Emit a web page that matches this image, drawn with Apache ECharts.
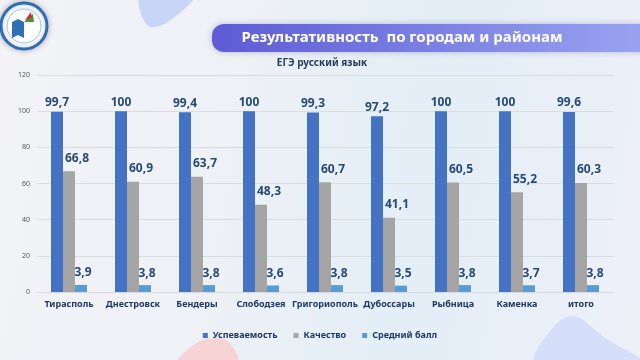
<!DOCTYPE html>
<html><head><meta charset="utf-8">
<script src="https://cdn.jsdelivr.net/npm/echarts@6/dist/echarts.min.js"></script>
<style>
html,body{margin:0;padding:0;}
#c{width:640px;height:360px;background:linear-gradient(100deg,#f3f3f7 0%,#eef1f6 35%,#e3eef6 65%,#eef0f8 100%);}
</style></head>
<body><div id="c"></div>
<script>
const categories = ['Тирасполь','Днестровск','Бендеры','Слободзея','Григориополь','Дубоссары','Рыбница','Каменка','итого'];
const uspevaemost = [99.7,100,99.4,100,99.3,97.2,100,100,99.6];
const kachestvo = [66.8,60.9,63.7,48.3,60.7,41.1,60.5,55.2,60.3];
const sredniyBall = [3.9,3.8,3.8,3.6,3.8,3.5,3.8,3.7,3.8];
const seriesNames = ['Успеваемость','Качество','Средний балл'];
const yTicks = [0,20,40,60,80,100,120];

const chart = echarts.init(document.getElementById('c'), null, {renderer:'canvas'});
const fmt = p => String(p.value).replace('.', ',');
const labelStyle = (offset) => ({show:true, position:'top', formatter:fmt, color:'#264a75', fontSize:12, fontWeight:'bold', fontFamily:'Noto Sans', offset:offset, distance:3});
const font = 'Noto Sans';
chart.setOption({
  backgroundColor:'transparent',
  animation:false,
  textStyle:{fontFamily:font},
  graphic:[
    {type:'polygon', z:-10, shape:{points:[[140,-4],[194,-4],[168,22],[150,27],[141,14]], smooth:0.3}, style:{fill:'#c8d5f7'}},
    {type:'polygon', z:-10, shape:{points:[[178,362],[200,341],[226,340],[238,362]], smooth:0.3}, style:{fill:'#f7d3d6'}},
    {type:'polygon', z:-10, shape:{points:[[535,362],[555,325],[575,316],[605,338],[642,362]], smooth:0.3}, style:{fill:'#d5dffa'}},
    {type:'circle', z:-5, shape:{cx:24,cy:26,r:23}, style:{fill:'#ffffff', stroke:'#2c6db5', lineWidth:3, shadowBlur:6, shadowColor:'rgba(0,0,0,0.25)'}},
    {type:'circle', z:-4, shape:{cx:24,cy:26,r:17}, style:{fill:'#ffffff', stroke:'#9cc0e4', lineWidth:1}},
    {type:'polygon', z:-3, shape:{points:[[12,22],[18,19],[24,22],[24,38],[18,35],[12,38]]}, style:{fill:'#2f70b8'}},
    {type:'polygon', z:-3, shape:{points:[[24,22],[33,14],[34,22]]}, style:{fill:'#3c9a3c'}},
    {type:'polygon', z:-3, shape:{points:[[25,20],[31,12],[32,18]]}, style:{fill:'#d43030'}},
    {type:'rect', z:-2, shape:{x:212,y:24,width:440,height:28,r:12}, style:{fill:new echarts.graphic.LinearGradient(0,0,1,0,[{offset:0,color:'#5d5bd5'},{offset:1,color:'#9ba5f2'}]), shadowBlur:6, shadowColor:'rgba(60,60,150,0.3)'}},
    {type:'text', z:5, style:{x:402,y:38,text:'Результативность  по городам и районам', fill:'#ffffff', font:'bold 15px "Noto Sans"', textAlign:'center', textVerticalAlign:'middle'}},
    {type:'text', z:5, style:{x:322,y:63,text:'ЕГЭ русский язык', fill:'#1f3a5f', font:'bold 10px "Noto Sans"', textAlign:'center', textVerticalAlign:'middle'}}
  ],
  grid:{left:37, right:27, top:75, bottom:68, containLabel:false},
  legend:{data:seriesNames, bottom:15, left:'center', itemWidth:5, itemHeight:5, itemGap:16, icon:'rect',
    textStyle:{fontSize:9, fontWeight:'bold', color:'#1f3864', fontFamily:font}},
  xAxis:{type:'category', data:categories, axisTick:{show:false},
    axisLine:{lineStyle:{color:'#d9d9d9'}},
    axisLabel:{fontSize:9, fontWeight:'bold', color:'#1f3864', margin:8, interval:0, fontFamily:font}},
  yAxis:{type:'value', min:yTicks[0], max:yTicks[yTicks.length-1], interval:20,
    axisLine:{show:false}, axisTick:{show:false},
    splitLine:{lineStyle:{color:'#dcdcdc'}},
    axisLabel:{fontSize:7, color:'#555', margin:7, fontFamily:font}},
  series:[
    {name:seriesNames[0], type:'bar', data:uspevaemost, barWidth:12, barGap:'0%', itemStyle:{color:'#4472c4'}, label:labelStyle([0,0])},
    {name:seriesNames[1], type:'bar', data:kachestvo, barWidth:12, barGap:'0%', itemStyle:{color:'#a5a5a5'}, label:labelStyle([8,-4])},
    {name:seriesNames[2], type:'bar', data:sredniyBall, barWidth:12, barGap:'0%', itemStyle:{color:'#5b9bd5'}, label:labelStyle([2,-3])}
  ]
});
</script></body></html>
